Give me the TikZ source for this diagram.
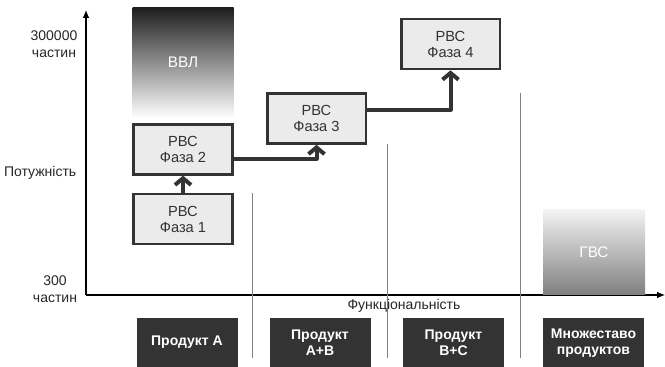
\documentclass[tikz,border=0pt]{standalone}
\usepackage{fontspec}
\setmainfont{Liberation Sans}
\usetikzlibrary{arrows.meta, positioning}
\tikzset{
  faza/.style={rectangle, minimum width=74pt, minimum height=37.5pt, align=center, draw=black!80, line width=2pt, fill=black!8, text=black!80, font=\fontsize{11}{12}\selectfont},
  produkt/.style={rectangle, minimum width=75.75pt, minimum height=36.75pt, align=center, fill=black!80, text=white, font=\bfseries\fontsize{10.5}{12}\selectfont},
  rynok/.style={rectangle, align=center, text=white, font=\fontsize{11.5}{13}\selectfont},
  osnapys/.style={align=center, text=black!85, font=\fontsize{10.5}{12.75}\selectfont},
  arrow/.style={line width=3pt, draw=black!80, -{Straight Barb[length=5pt,width=12pt]}, line cap=round, line join=round},
  vis/.style={line width=0.8pt, -{Latex[length=6pt,width=5pt]}},
  mezha/.style={draw=black!50, line width=0.6pt}
}
\begin{document}
\begin{tikzpicture}[x=0.75pt, y=-0.75pt]
        \useasboundingbox (0,0) rectangle (665,367);

        % Osi
        \coordinate (poch) at (86,295);
        \coordinate (vgoru) at (86,10);
        \coordinate (vpravo) at (665,295);
        \draw [vis] (poch) -- (vgoru);
        \draw [vis] (poch) -- (vpravo);

        % Mezhi
        \draw [mezha] (252,193) -- (252,358);
        \draw [mezha] (387,144) -- (387,358);
        \draw [mezha] (520,93) -- (520,358);

        % Fazy
        \node (faza1) [faza] at (183,219) {РВС\\Фаза 1};
        \node (faza2) [faza, above=12.75pt of faza1] {РВС\\Фаза 2};
        \node (faza3) [faza] at (316.5,118.5) {РВС\\Фаза 3};
        \node (faza4) [faza] at (450.5,44) {РВС\\Фаза 4};

        % Rynky
        \node (vvl) [rynok, above=3.75pt of faza2, minimum width=75.75pt, minimum height=82.5pt, top color=black!88, bottom color=white] {ВВЛ};
        \node (gvs) [rynok, minimum width=76.5pt, minimum height=63.75pt, top color=black!5, bottom color=black!50] at (594,252.5) {ГВС};

        % Produkty
        \node (prodA) [produkt] at (187,342.5) {Продукт A};
        \node (prodAB) [produkt] at (320,343) {Продукт\\A+B};
        \node (prodBC) [produkt] at (453.5,343) {Продукт\\B+C};
        \node (prodM) [produkt] at (593.5,343) {Множеставо\\продуктов};

        % Pidpysy
        \node (max) [osnapys] at (54,44) {300000\\частин};
        \node (potuzh) [osnapys, anchor=east] at (81,173) {Потужність};
        \node (min) [osnapys] at (55,289) {300\\частин};
        \node (funk) [osnapys] at (404,306) {Функціональність};

        % Strilky
        \draw [arrow] (faza1) -- (faza2);
        \draw [arrow] ([yshift=-7pt]faza2.east) -| (faza3.south);
        \draw [arrow] ([yshift=6.5pt]faza3.east) -| (faza4.south);
\end{tikzpicture}
\end{document}
